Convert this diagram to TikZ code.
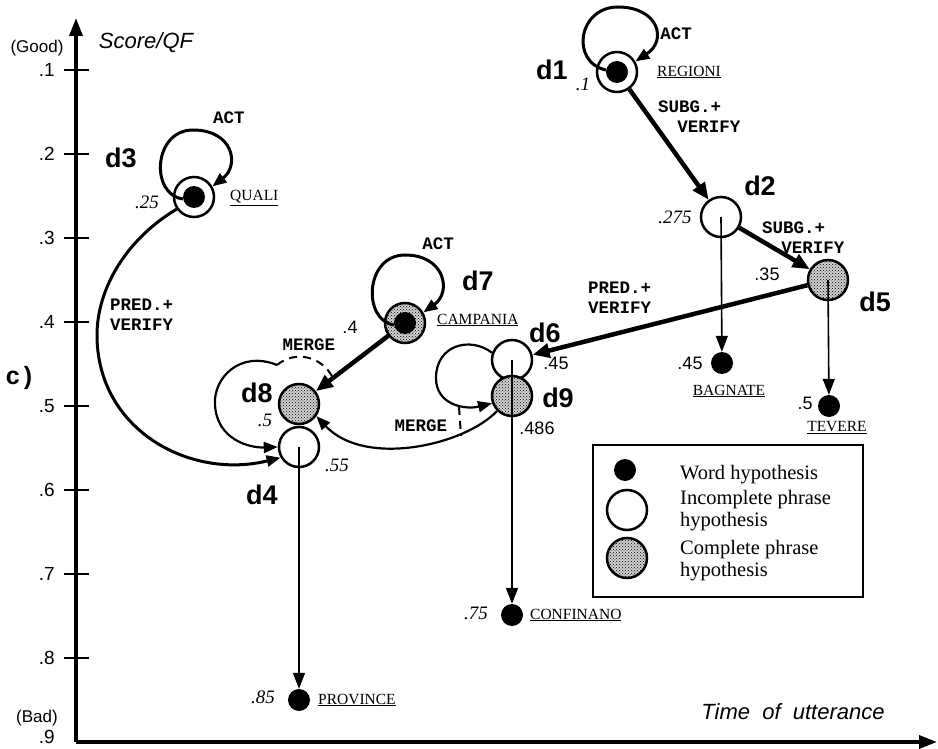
\documentclass[tikz,border=0pt]{standalone}
\usepackage{fontspec}
\setmainfont{Liberation Serif}
\setsansfont{Liberation Sans}
\setmonofont{Liberation Mono}
\usetikzlibrary{arrows.meta, positioning, patterns}

\tikzset{
	scoreserif/.style={font=\fontsize{19}{19}\selectfont\itshape, inner sep=0pt},
	scoresans/.style={font=\fontsize{18}{18}\sffamily, inner sep=0pt},
	wordtext/.style={font=\fontsize{15.5}{16}\selectfont, inner sep=0pt},
	optext/.style={font=\fontsize{17.5}{20}\ttfamily\bfseries, align=left, inner sep=0pt},
	idtext/.style={font=\fontsize{27}{27}\sffamily\bfseries, inner sep=0pt}
}
\tikzset{
	axistext/.style={font=\fontsize{19}{19}\sffamily, inner sep=0pt}
}

\begin{document}
\begin{tikzpicture}[x=1pt, y=-1pt]
	\tikzset{
		phrase/.style={
				shape=circle,
				draw=black,
				line width=2.5pt,
				fill=white,
				minimum size=40pt,
				inner sep=0pt
			},
		complete/.style={phrase, preaction={fill=black!18}, pattern=crosshatch dots},
		word/.style={shape=circle, fill=black, minimum size=22pt, inner sep=0pt},
		axisline/.style={line width=3.5pt, -{Triangle[length=18pt,width=13pt]}},
		thickarrow/.style={line width=4.5pt, -{Triangle[length=17pt,width=14pt]}},
		thinarrow/.style={line width=1.6pt, -{Triangle[length=16pt,width=12pt]}},
		looparrow/.style={line width=3pt, -{Triangle[length=14pt,width=11pt]}},
		loopthin/.style={line width=2.2pt, -{Triangle[length=14pt,width=11pt]}},
		mergeline/.style={line width=2pt, dash pattern=on 8pt off 6pt},
		legendtext/.style={font=\fontsize{20.5}{22}\selectfont, align=left, inner sep=0pt}
	}
	\useasboundingbox (0,0) rectangle (938,749);

	% axes
	\coordinate (orig) at (76,742);
	\coordinate (ytop) at (76,18);
	\coordinate (xend) at (937,742);
	\draw[axisline] (orig) -- (ytop);
	\draw[axisline] (orig) -- (xend);
	\foreach \v in {1,...,8} {
		\draw[line width=2pt] (64,{70+84*(\v-1)}) -- (89,{70+84*(\v-1)});
		\node[axistext, anchor=east] at (55,{70+84*(\v-1)}) {.\v};
	}
	\node[axistext, anchor=east] (nine) at (55,737) {.9};
	\node[axistext, font=\fontsize{17}{17}\sffamily] (good) at (37,48) {(Good)};
	\node[axistext, font=\fontsize{17}{17}\sffamily] (bad) at (37,718) {(Bad)};
	\node[axistext, font=\fontsize{22}{22}\sffamily\itshape] (yname) at (146,43) {Score/QF};
	\node[axistext, font=\fontsize{22}{22}\sffamily\itshape] (xname) at (793,712) {Time~~of~~utterance};
	\node[idtext, font=\fontsize{25}{25}\sffamily\bfseries] (part) at (19,378) {c\,)};

	% hypotheses
	\node[phrase] (d1) at (617,72) {};
	\node[word] (d1w) at (d1) {};
	\node[phrase] (d2) at (721,217) {};
	\node[complete] (d5) at (828,280) {};
	\node[phrase] (d3) at (194,197) {};
	\node[word] (d3w) at (d3) {};
	\node[complete] (d7) at (405,323) {};
	\node[word] (d7w) at (d7) {};
	\node[phrase] (d6) at (512,360) {};
	\node[complete] (d9) at (512,396) {};
	\node[complete] (d8) at (299,404) {};
	\node[phrase] (d4) at (299,447) {};

	\node[word] (bagnate) at (722,363) {};
	\node[word] (tevere) at (829,406) {};
	\node[word] (confinano) at (512,615) {};
	\node[word] (province) at (299,700) {};

	% subgoaling and prediction
	\draw[thickarrow] (d1) -- (d2);
	\draw[thickarrow] (d2) -- (d5);
	\draw[thickarrow] (d5) -- (d6);
	\draw[thickarrow] (d7) -- (d8);

	\draw[thinarrow] (d2.center) -- (bagnate);
	\draw[thinarrow] (d5.center) -- (tevere);
	\draw[thinarrow] (d6.center) -- (confinano);
	\draw[thinarrow] (d4.center) -- (province);

	% activation loops
	\draw[looparrow] (d1w.170) .. controls (570,62) and (578,7) .. (618,7)
		.. controls (658,7) and (668,40) .. (d1.30);
	\draw[looparrow] (d3w.190) .. controls (150,195) and (153,130) .. (193,130)
		.. controls (233,130) and (240,165) .. (d3.30);
	\draw[looparrow] (d7w.190) .. controls (362,320) and (365,255) .. (405,255)
		.. controls (445,255) and (452,292) .. (d7.30);

	\draw[looparrow] (d3.215) .. controls (125,240) and (97,290) .. (97,335)
		.. controls (97,430) and (190,480) .. (d4.210);

	% merges
	\coordinate (m8) at (277,365);
	\coordinate (m8b) at (333,378);
	\draw[loopthin] (m8) .. controls (240,350) and (213,378) .. (215,405)
		.. controls (217,440) and (250,448) .. (d4.west);
	\draw[mergeline] (m8) .. controls (295,350) and (322,356) .. (m8b);

	\coordinate (m9) at (459,407);
	\coordinate (m9b) at (461,436);
	\draw[loopthin] (d6.160) .. controls (470,336) and (436,345) .. (436,378)
		.. controls (436,405) and (465,410) .. (d9.200);
	\draw[loopthin] (d9.225) .. controls (465,445) and (365,468) .. (d8.-35);
	\draw[mergeline] (m9) -- (m9b);

	% names
	\node[idtext] at (552,70) {d1};
	\node[idtext] at (760,186) {d2};
	\node[idtext] at (121,158) {d3};
	\node[idtext] at (262,495) {d4};
	\node[idtext] at (875,302) {d5};
	\node[idtext] at (545,333) {d6};
	\node[idtext] at (478,281) {d7};
	\node[idtext] at (257,393) {d8};
	\node[idtext] at (558,398) {d9};

	% scores
	\node[scoreserif] at (583,84) {.1};
	\node[scoreserif] at (675,217) {.275};
	\node[scoresans] at (767,274) {.35};
	\node[scoresans] at (690,363) {.45};
	\node[scoresans] at (805,403) {.5};
	\node[scoreserif] at (147,202) {.25};
	\node[scoresans] at (350,327) {.4};
	\node[scoreserif] at (265,420) {.5};
	\node[scoreserif] at (337,465) {.55};
	\node[scoresans] at (556,363) {.45};
	\node[scoresans] at (537,428) {.486};
	\node[scoreserif] at (476,613) {.75};
	\node[scoreserif] at (263,697) {.85};

	% words
	\node[wordtext, anchor=west] at (657,72) {\underline{REGIONI}};
	\node[wordtext, anchor=west] at (230,198) {\underline{QUALI}};
	\node[wordtext, anchor=west] at (437,320) {\underline{CAMPANIA}};
	\node[wordtext] at (729,391) {\underline{BAGNATE}};
	\node[wordtext] at (837,428) {\underline{TEVERE}};
	\node[wordtext, anchor=west] at (530,615) {\underline{CONFINANO}};
	\node[wordtext, anchor=west] at (318,700) {\underline{PROVINCE}};

	% operators
	\node[optext] at (676,34) {ACT};
	\node[optext] at (229,118) {ACT};
	\node[optext] at (438,244) {ACT};
	\node[optext, anchor=north west] at (658,101) {SUBG.+\\\hspace*{1.1em}VERIFY};
	\node[optext, anchor=north west] at (762,222) {SUBG.+\\\hspace*{1.1em}VERIFY};
	\node[optext, anchor=west] at (588,298) {PRED.+\\VERIFY};
	\node[optext, anchor=west] at (110,315) {PRED.+\\VERIFY};
	\node[optext] at (309,345) {MERGE};
	\node[optext] at (421,426) {MERGE};

	% legend
	\node[draw, line width=2.5pt, minimum width=270pt, minimum height=152pt] (legend) at (728,521) {};
	\node[word] (lgword) at (625,470) {};
	\node[phrase] (lgphrase) at (627,510) {};
	\node[complete] (lgcomplete) at (627,558) {};
	\node[legendtext, anchor=west] at (680,475) {Word hypothesis};
	\node[legendtext, anchor=west] at (680,511) {Incomplete phrase\\hypothesis};
	\node[legendtext, anchor=west] at (680,561) {Complete phrase\\hypothesis};
\end{tikzpicture}
\end{document}
